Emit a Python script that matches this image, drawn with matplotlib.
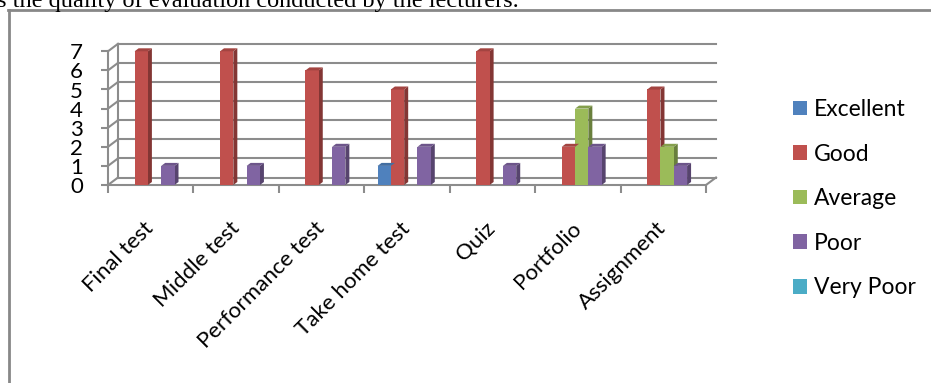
import numpy as np
import matplotlib.pyplot as plt
from matplotlib.patches import Polygon
from matplotlib.lines import Line2D
from matplotlib.colors import to_rgb

plt.rcParams['font.family'] = ['Lato', 'DejaVu Sans']

categories = ['Final test', 'Middle test', 'Performance test', 'Take home test',
              'Quiz', 'Portfolio', 'Assignment']
series = ['Excellent', 'Good', 'Average', 'Poor', 'Very Poor']
excellent = [0, 0, 0, 1, 0, 0, 0]
good = [7, 7, 6, 5, 7, 2, 5]
average = [0, 0, 0, 0, 0, 4, 2]
poor = [1, 1, 2, 2, 1, 2, 1]
very_poor = [0, 0, 0, 0, 0, 0, 0]
values = [excellent, good, average, poor, very_poor]
colors = ['#4F81BD', '#C0504D', '#9BBB59', '#8064A2', '#4BACC6']
yticks = [0, 1, 2, 3, 4, 5, 6, 7]

W, H = 931, 383
fig = plt.figure(figsize=(W / 100, H / 100), dpi=100)

# plot area in pixels: x 108..706, y=0 at 185, 19.1 px per unit
x0, x1, y0, ppu = 108, 706, 185, 19.1
ax = fig.add_axes([x0 / W, (H - y0) / H, (x1 - x0) / W, 7 * ppu / H])
ax.set_xlim(0, len(categories))
ax.set_ylim(0, 7)

cat_px = (x1 - x0) / len(categories)
# depth of the back wall and of each column, in data units
wall_dx, wall_dy = 10 / cat_px, 7.5 / ppu
bar_dx, bar_dy = 4 / cat_px, 3 / ppu
bw = 13.3 / cat_px

grid_c = '#8c8c8c'
for v in yticks:
    ax.plot([wall_dx, len(categories) + wall_dx], [v + wall_dy] * 2,
            color=grid_c, lw=1.5, clip_on=False, zorder=1)
    ax.plot([0, wall_dx], [v, v + wall_dy], color=grid_c, lw=1.5,
            clip_on=False, zorder=1)
ax.plot([wall_dx, wall_dx], [wall_dy, 7 + wall_dy], color=grid_c, lw=1.5,
        clip_on=False, zorder=1)
ax.plot([len(categories), len(categories) + wall_dx], [0, wall_dy],
        color=grid_c, lw=1.5, clip_on=False, zorder=1)


def shade(c, f):
    r, g, b = to_rgb(c)
    return (r * f, g * f, b * f)


x = np.arange(len(categories))
for j, (name, vals, col) in enumerate(zip(series, values, colors)):
    left = x + (j + 1) * bw
    bars = ax.bar(left, vals, bw, align='edge', color=col, label=name,
                  zorder=3, clip_on=False)
    for b, v in zip(bars, vals):
        if v == 0:
            continue
        bx, bt = b.get_x(), b.get_height()
        side = [(bx + bw, 0), (bx + bw + bar_dx, bar_dy),
                (bx + bw + bar_dx, bt + bar_dy), (bx + bw, bt)]
        top = [(bx, bt), (bx + bar_dx, bt + bar_dy),
               (bx + bw + bar_dx, bt + bar_dy), (bx + bw, bt)]
        ax.add_patch(Polygon(side, closed=True, color=shade(col, 0.68),
                             zorder=2.5, clip_on=False, lw=0))
        ax.add_patch(Polygon(top, closed=True, color=shade(col, 0.85),
                             zorder=3.5, clip_on=False, lw=0))

for s in ['top', 'right']:
    ax.spines[s].set_visible(False)
for s in ['left', 'bottom']:
    ax.spines[s].set_color(grid_c)
    ax.spines[s].set_linewidth(1.5)
    ax.spines[s].set_zorder(1)

ax.set_yticks(yticks)
ax.tick_params(axis='y', length=5, width=1.5, color=grid_c, pad=13,
               labelsize=16)
ax.set_xticks(np.arange(len(categories) + 1))
ax.set_xticklabels([])
ax.tick_params(axis='x', which='major', length=6, width=1.5, color=grid_c)
ax.set_xticks(x + 0.5, minor=True)
ax.set_xticklabels(categories, minor=True, rotation=45, ha='right',
                   va='center', rotation_mode='anchor', fontsize=16)
ax.tick_params(axis='x', which='minor', length=0, pad=29)
ax.set_facecolor('none')

fig.legend(loc='upper left', bbox_to_anchor=(793 / W, 1 - 99 / H),
           frameon=False, fontsize=16.5, handlelength=0.6, handleheight=0.6,
           handletextpad=0.3, labelspacing=1.03, borderaxespad=0,
           borderpad=0)

# surrounding frame and the line of body text above it
fig.add_artist(Line2D([8.5 / W, 8.5 / W], [0, 1 - 10 / H], color='#888888',
                      lw=2, transform=fig.transFigure))
fig.add_artist(Line2D([8 / W, 1], [1 - 10 / H, 1 - 10 / H], color='#888888',
                      lw=2, transform=fig.transFigure))
fig.text(-3 / W, 1 - 7 / H,
         's the quality of evaluation conducted by the lecturers.',
         family='Liberation Serif', fontsize=17.5, va='baseline', ha='left')

fig.savefig('out.png', dpi=100)
